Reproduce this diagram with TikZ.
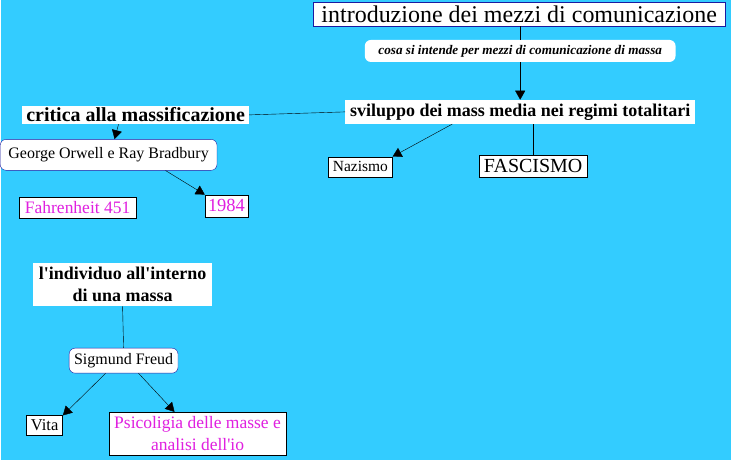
\documentclass[tikz,border=0pt]{standalone}
\usepackage{fontspec}
\setmainfont{Liberation Serif}
\usetikzlibrary{arrows.meta}
\definecolor{sfondo}{HTML}{33CCFF}
\definecolor{bordoblu}{HTML}{1A1AA0}
\definecolor{magenta}{HTML}{E020E0}

\begin{document}
\begin{tikzpicture}[
  x=1pt, y=-1pt,
  >={Triangle[length=9pt,width=10pt]},
  box/.style={draw=black, fill=white, inner sep=1pt, align=center},
  title/.style={fill=white, inner sep=1pt, align=center, font=\bfseries\fontsize{17.5}{20}\selectfont},
  round/.style={draw=bordoblu, fill=white, rounded corners=6pt, inner sep=2pt, align=center},
  libro/.style={box, text=magenta, font=\fontsize{17.5}{21}\selectfont},
  arr/.style={->, thin, draw=black},
  link/.style={thin, draw=black}
]
  % sfondo
  \fill[sfondo] (0,0) rectangle (731,460);

  % Parte alta: introduzione e regimi totalitari
  \node[box, draw=bordoblu, minimum width=412pt, minimum height=24pt, font=\fontsize{24}{26}\selectfont] (intro) at (519,14) {introduzione dei mezzi di comunicazione};
  \node[fill=white, rounded corners=6pt, minimum width=311pt, minimum height=22pt, inner sep=1pt, font=\bfseries\itshape\fontsize{13.2}{15}\selectfont] (cosa) at (520,51) {cosa si intende per mezzi di comunicazione di massa};
  \node[title, minimum width=350pt, minimum height=24pt, font=\bfseries\fontsize{18}{20}\selectfont] (svil) at (520,112) {sviluppo dei mass media nei regimi totalitari};
  \node[title, minimum width=227pt, minimum height=18pt, font=\bfseries\fontsize{20}{20}\selectfont] (crit) at (135,115) {critica alla massificazione};
  \node[box, minimum width=64pt, minimum height=20pt, font=\fontsize{15.5}{17}\selectfont] (naz) at (360,167) {Nazismo};
  \node[box, minimum width=108pt, minimum height=22pt, font=\fontsize{20}{22}\selectfont] (fasc) at (533,166) {FASCISMO};

  % Orwell e Bradbury
  \node[round, minimum width=217pt, minimum height=31pt, font=\fontsize{16}{18}\selectfont] (george) at (108,155) {George Orwell e Ray Bradbury};
  \node[libro, minimum width=43pt, minimum height=22pt, font=\fontsize{18.5}{20}\selectfont] (n1984) at (226,206) {1984};
  \node[libro, minimum width=117pt, minimum height=21pt] (fahr) at (77,208) {Fahrenheit 451};

  % Freud
  \node[title, minimum width=180pt, minimum height=43pt, font=\bfseries\fontsize{18}{22}\selectfont] (indiv) at (122,285) {l\textquotesingle individuo all\textquotesingle interno\\di una massa};
  \node[round, minimum width=109pt, minimum height=25pt, font=\fontsize{16}{18}\selectfont] (freud) at (123,361) {Sigmund Freud};
  \node[box, minimum width=36pt, minimum height=20pt, font=\fontsize{16.5}{18}\selectfont] (vita) at (44,426) {Vita};
  \node[libro, minimum width=177pt, minimum height=43pt, font=\fontsize{17.5}{22}\selectfont] (psico) at (197,434) {Psicoligia delle masse e\\analisi dell\textquotesingle io};

  % Collegamenti
  \draw[link] (intro.south -| cosa.north) -- (cosa.north);
  \draw[arr] (cosa.south) -- (svil.north);
  \draw[link] (svil.west) -- (crit.east);
  \draw[arr] ([xshift=-68]svil.south) -- (naz.north east);
  \draw[link] (svil.south -| fasc.north) -- (fasc.north);
  \draw[arr] ([xshift=-17]crit.south) -- ([xshift=6]george.north);
  \draw[arr] ([xshift=57]george.south) -- (n1984.north west);
  \draw[link] (indiv.south) -- (freud.north);
  \draw[arr] ([xshift=-18]freud.south) -- (vita.north east);
  \draw[arr] ([xshift=15]freud.south) -- ([xshift=-23]psico.north);
\end{tikzpicture}
\end{document}
